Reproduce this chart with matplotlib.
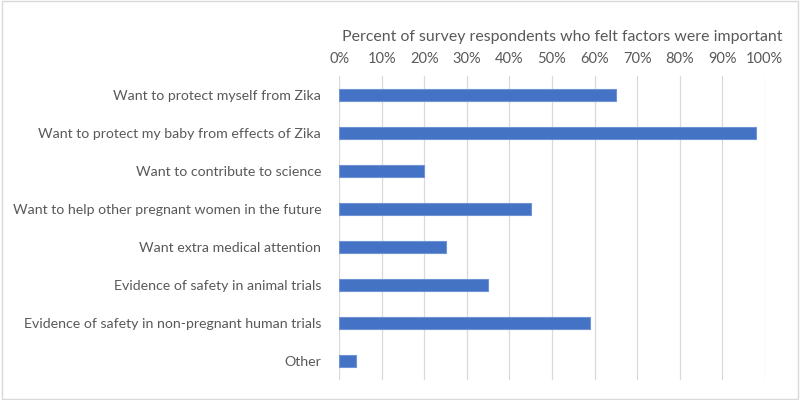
import matplotlib.pyplot as plt
from matplotlib.ticker import PercentFormatter
from matplotlib.patches import Rectangle

plt.rcParams['font.family'] = ['Lato', 'DejaVu Sans']

# 数据
factors = [
    "Want to protect myself from Zika",
    "Want to protect my baby from effects of Zika",
    "Want to contribute to science",
    "Want to help other pregnant women in the future",
    "Want extra medical attention",
    "Evidence of safety in animal trials",
    "Evidence of safety in non-pregnant human trials",
    "Other",
]
percents = [65, 98, 20, 45, 25, 35, 59, 4]
ticks = list(range(0, 101, 10))

text_color = '#595959'

fig = plt.figure(figsize=(8, 4), dpi=100)
ax = fig.add_axes([0.424, 0.05, 0.532, 0.76])

pos = list(range(len(factors)))
ax.barh(pos, percents, height=0.34, color='#4472C4', edgecolor='#6f93d6', linewidth=0.8, zorder=3)

ax.set_ylim(len(factors) - 0.5, -0.5)
ax.set_yticks(pos)
ax.set_yticklabels(factors, fontsize=10.2, color=text_color)

ax.set_xlim(0, 100)
ax.set_xticks(ticks)
ax.xaxis.set_major_formatter(PercentFormatter(decimals=0))
ax.xaxis.tick_top()
ax.xaxis.set_label_position('top')
ax.set_xlabel('Percent of survey respondents who felt factors were important',
              fontsize=11.4, color=text_color)
ax.xaxis.set_label_coords(0.525, 1.115)
ax.tick_params(axis='x', colors=text_color, labelsize=10.5, length=0, pad=7)
ax.tick_params(axis='y', length=0, pad=13)

ax.grid(axis='x', color='#D9D9D9', linewidth=0.9, zorder=0)
for s in ax.spines.values():
    s.set_visible(False)

# 外框
fig.patches.append(Rectangle((0.002, 0.003), 0.996, 0.994, transform=fig.transFigure,
                             fill=False, edgecolor='#D9D9D9', linewidth=1))

fig.savefig('out.png', dpi=100)
